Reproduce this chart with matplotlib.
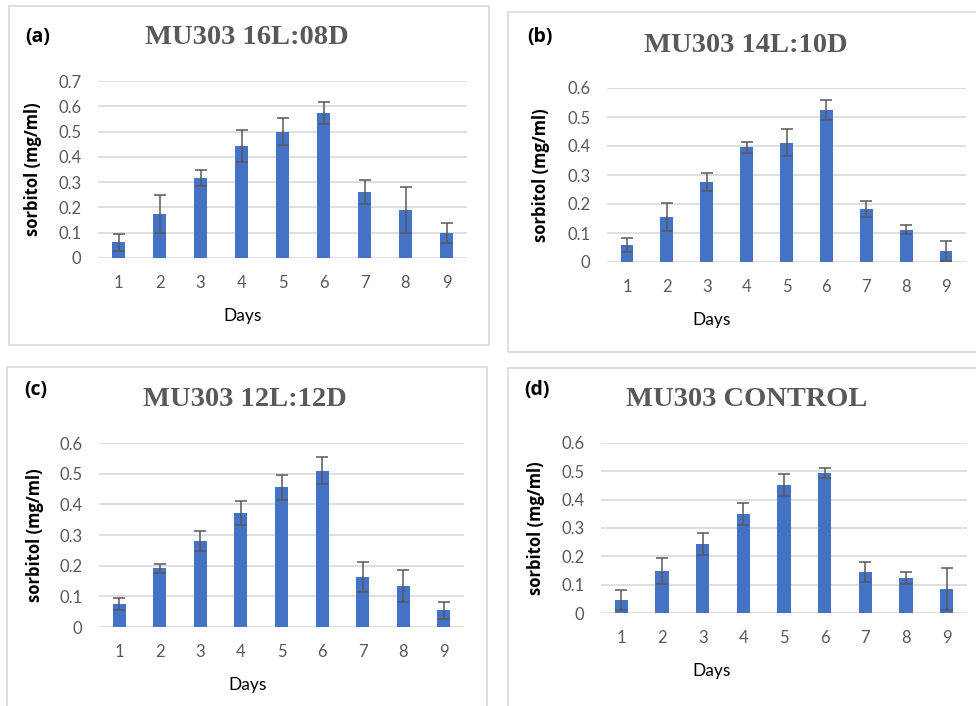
#importing the required libraries
from matplotlib import pyplot as plt
from matplotlib.patches import Rectangle

# Data (mean sorbitol and error for each day)
days = ['1', '2', '3', '4', '5', '6', '7', '8', '9']

mean_16L = [0.062, 0.174, 0.316, 0.443, 0.499, 0.573, 0.260, 0.189, 0.098]
err_16L = [0.033, 0.075, 0.033, 0.064, 0.053, 0.045, 0.048, 0.090, 0.039]

mean_14L = [0.059, 0.156, 0.276, 0.395, 0.412, 0.523, 0.183, 0.112, 0.037]
err_14L = [0.025, 0.048, 0.032, 0.020, 0.047, 0.035, 0.029, 0.016, 0.034]

mean_12L = [0.076, 0.192, 0.280, 0.372, 0.455, 0.510, 0.163, 0.135, 0.055]
err_12L = [0.020, 0.015, 0.032, 0.040, 0.040, 0.043, 0.050, 0.052, 0.028]

mean_ctrl = [0.047, 0.147, 0.245, 0.349, 0.453, 0.493, 0.146, 0.124, 0.084]
err_ctrl = [0.035, 0.046, 0.039, 0.039, 0.039, 0.018, 0.035, 0.021, 0.074]

titles = ['MU303 16L:08D', 'MU303 14L:10D', 'MU303 12L:12D', 'MU303 CONTROL']
labels = ['(a)', '(b)', '(c)', '(d)']

W, H = 976, 706
fig = plt.figure(figsize=(W / 100, H / 100), dpi=100)
fig.patch.set_facecolor('white')

bar_color = '#4472C4'
grey_text = '#595959'
grid_color = '#d9d9d9'
sans = ['Lato', 'DejaVu Sans']
sans_bold = ['Open Sans', 'DejaVu Sans']


def box(x0, y0, x1, y1):
    # light grey frame around each chart, given in pixels from the top left
    fig.patches.append(Rectangle((x0 / W, 1 - y1 / H), (x1 - x0) / W, (y1 - y0) / H,
                                 transform=fig.transFigure, fill=False,
                                 edgecolor=grid_color, linewidth=1.2))


def panel(px, means, errs, ymax, title, label, title_xy, label_xy, ylab_x, days_x):
    left, right, top, bottom = px
    ax = fig.add_axes([left / W, 1 - bottom / H, (right - left) / W, (bottom - top) / H])
    x = range(len(days))
    ax.bar(x, means, width=0.32, color=bar_color, zorder=3,
           yerr=errs, error_kw=dict(ecolor='#595959', elinewidth=1.1, capsize=4, capthick=1.1))
    ax.set_xlim(-0.5, len(days) - 0.5)
    ax.set_ylim(0, ymax)
    ticks = [i / 10 for i in range(int(round(ymax * 10)) + 1)]
    ax.set_yticks(ticks)
    ax.set_yticklabels(['0' if t == 0 else '%.1f' % t for t in ticks])
    ax.set_xticks(list(x))
    ax.set_xticklabels(days)
    ax.yaxis.grid(True, color=grid_color, linewidth=1.2, zorder=0)
    ax.set_axisbelow(True)
    for s in ax.spines.values():
        s.set_visible(False)
    ax.tick_params(length=0, colors=grey_text, labelsize=12)
    ax.tick_params(axis='y', pad=12)
    ax.tick_params(axis='x', pad=12)
    for t in ax.get_xticklabels() + ax.get_yticklabels():
        t.set_family(sans)
    ax.set_ylabel('sorbitol (mg/ml)', fontsize=12, fontweight='bold', family=sans_bold)
    ax.yaxis.set_label_coords((ylab_x - left) / (right - left), 0.5)
    ax.set_xlabel('Days', fontsize=12.5, family=sans)
    ax.xaxis.set_label_coords((days_x - left) / (right - left), -50 / (bottom - top))
    fig.text(title_xy[0] / W, 1 - title_xy[1] / H, title, ha='center', va='center',
             fontsize=20.5, fontweight='bold', color=grey_text, family='Liberation Serif')
    fig.text(label_xy[0] / W, 1 - label_xy[1] / H, label, ha='left', va='center',
             fontsize=14, fontweight='bold', color='black', family=sans_bold)
    return ax


box(9, 6, 489, 345)
box(508, 12, 985, 352)
box(7, 367, 487, 715)
box(508, 368, 985, 715)

panel((98, 467, 81, 258), mean_16L, err_16L, 0.7, titles[0], labels[0], (247, 38), (25, 37), 42, 243)
panel((607, 966, 88, 262), mean_14L, err_14L, 0.6, titles[1], labels[1], (746, 45), (527, 37), 550, 712)
panel((99, 464, 443, 627), mean_12L, err_12L, 0.6, titles[2], labels[2], (245, 400), (24, 390), 44, 248)
panel((601, 967, 443, 613), mean_ctrl, err_ctrl, 0.6, titles[3], labels[3], (747, 400), (524, 390), 545, 712)

plt.savefig('out.png', dpi=100)
